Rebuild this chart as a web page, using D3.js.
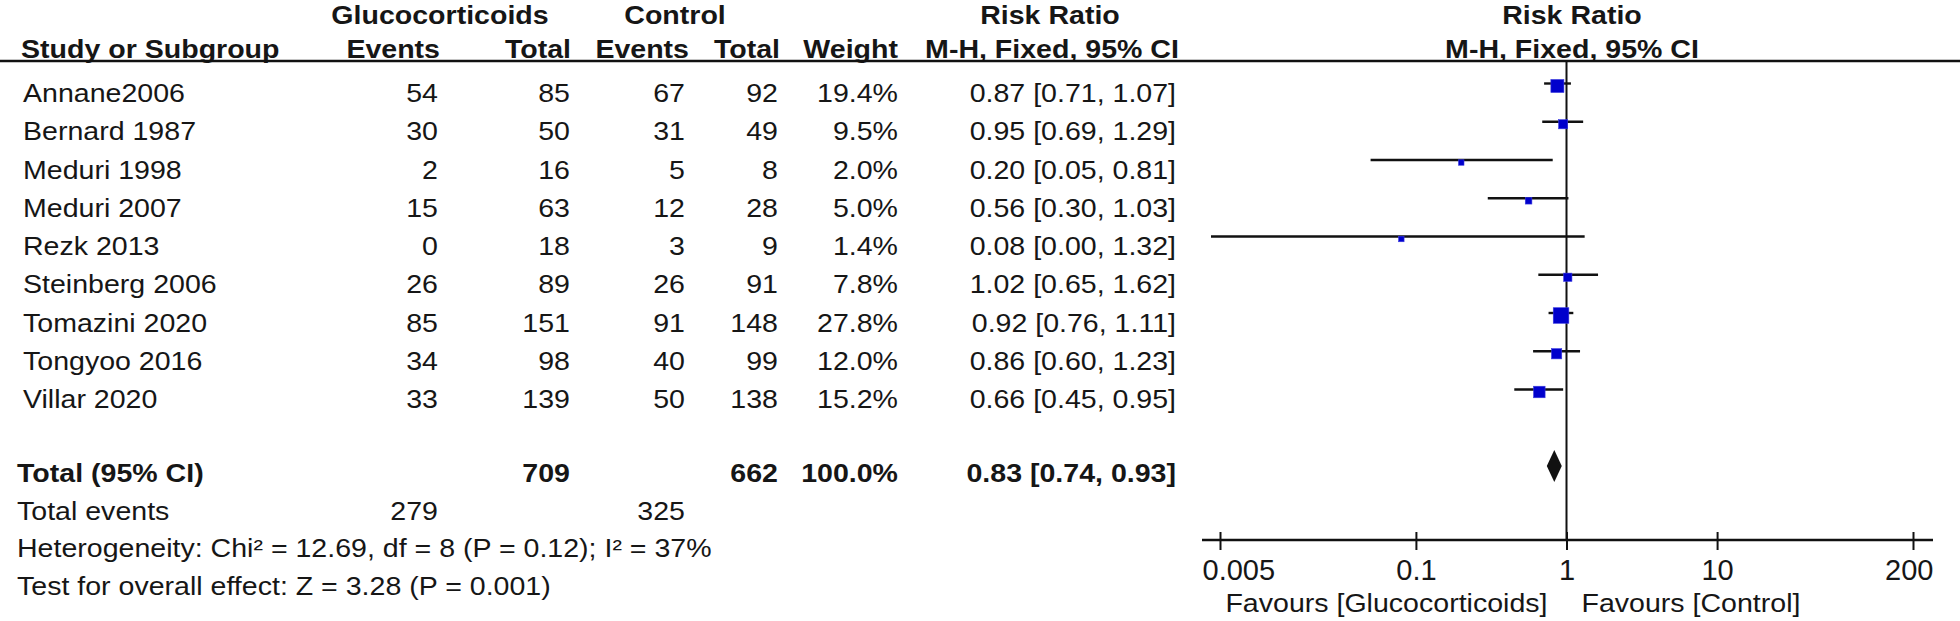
<!DOCTYPE html>
<html>
<head>
<meta charset="utf-8">
<script src="https://cdn.jsdelivr.net/npm/d3@7"></script>
<style>
  body { margin: 0; background: #fff; }
  text { font-family: 'Liberation Sans', Arial, sans-serif; fill: #161616; }
</style>
</head>
<body>
<div id="forest"></div>
<script>
const WIDTH = 1960;
const HEIGHT = 621;
const SX = 1.12;       // the source picture is a little wider than tall
const FONT = 25.5;

// data
const STUDIES = ["Annane2006", "Bernard 1987", "Meduri 1998", "Meduri 2007", "Rezk 2013",
  "Steinberg 2006", "Tomazini 2020", "Tongyoo 2016", "Villar 2020"];
const GC_EVENTS = [54, 30, 2, 15, 0, 26, 85, 34, 33];
const GC_TOTAL = [85, 50, 16, 63, 18, 89, 151, 98, 139];
const CT_EVENTS = [67, 31, 5, 12, 3, 26, 91, 40, 50];
const CT_TOTAL = [92, 49, 8, 28, 9, 91, 148, 99, 138];
const WEIGHT = [19.4, 9.5, 2.0, 5.0, 1.4, 7.8, 27.8, 12.0, 15.2];
const RR = [0.87, 0.95, 0.20, 0.56, 0.08, 1.02, 0.92, 0.86, 0.66];
const RR_LO = [0.71, 0.69, 0.05, 0.30, 0.00, 0.65, 0.76, 0.60, 0.45];
const RR_HI = [1.07, 1.29, 0.81, 1.03, 1.32, 1.62, 1.11, 1.23, 0.95];

const TOTAL_GC = 709, TOTAL_CT = 662, TOTAL_WEIGHT = 100.0;
const TOTAL_RR = [0.83, 0.74, 0.93];
const EVENTS_GC = 279, EVENTS_CT = 325;
const HETEROGENEITY = "Heterogeneity: Chi² = 12.69, df = 8 (P = 0.12); I² = 37%";
const OVERALL = "Test for overall effect: Z = 3.28 (P = 0.001)";
const TICKS = [0.005, 0.1, 1, 10, 200];

// column right edges / left edges
const COL = { name: 23, foot: 17, gcE: 438, gcT: 570, ctE: 685, ctT: 778, w: 898, rr: 1176 };

const svg = d3.select("#forest")
  .append('svg')
  .attr('width', WIDTH)
  .attr('height', HEIGHT);

function label(x, y, s, anchor, bold, size, sx) {
  return svg.append('text')
    .attr('transform', `translate(${x},${y}) scale(${sx === undefined ? SX : sx},1)`)
    .attr('text-anchor', anchor || 'start')
    .style('font-weight', bold ? 'bold' : 'normal')
    .style('font-size', (size || FONT) + 'px')
    .text(s);
}

const xScale = d3.scaleLog()
  .domain([0.005, 200])
  .range([1220, 1913]);
const rowY = d3.scaleLinear().domain([0, 1]).range([102, 140.25]);
const footY = d3.scaleLinear().domain([0, 1]).range([482, 519.6]);
const size = d3.scaleSqrt().domain([0, 27.8]).range([0, 15.6]);
const fmt = d3.format(".2f");
const ci = (a, b, c) => `${fmt(a)} [${fmt(b)}, ${fmt(c)}]`;

// headers
label(440, 24, "Glucocorticoids", 'middle', true);
label(675, 24, "Control", 'middle', true);
label(1050, 24, "Risk Ratio", 'middle', true);
label(1572, 24, "Risk Ratio", 'middle', true);
label(COL.name - 2, 58, "Study or Subgroup", 'start', true);
label(COL.gcE + 2, 58, "Events", 'end', true);
label(COL.gcT + 1, 58, "Total", 'end', true);
label(COL.ctE + 4, 58, "Events", 'end', true);
label(COL.ctT + 2, 58, "Total", 'end', true);
label(COL.w, 58, "Weight", 'end', true);
label(1052, 58, "M-H, Fixed, 95% CI", 'middle', true);
label(1572, 58, "M-H, Fixed, 95% CI", 'middle', true);

svg.append('line')
  .attr('x1', 0).attr('x2', WIDTH)
  .attr('y1', 61).attr('y2', 61)
  .attr('stroke', '#111').attr('stroke-width', 2.6);

// study rows
STUDIES.forEach((s, i) => {
  const y = rowY(i);
  label(COL.name, y, s);
  label(COL.gcE, y, GC_EVENTS[i], 'end');
  label(COL.gcT, y, GC_TOTAL[i], 'end');
  label(COL.ctE, y, CT_EVENTS[i], 'end');
  label(COL.ctT, y, CT_TOTAL[i], 'end');
  label(COL.w, y, WEIGHT[i].toFixed(1) + '%', 'end');
  label(COL.rr, y, ci(RR[i], RR_LO[i], RR_HI[i]), 'end');
});

// totals
label(COL.foot, footY(0), "Total (95% CI)", 'start', true);
label(COL.gcT, footY(0), TOTAL_GC, 'end', true);
label(COL.ctT, footY(0), TOTAL_CT, 'end', true);
label(COL.w, footY(0), TOTAL_WEIGHT.toFixed(1) + '%', 'end', true);
label(COL.rr, footY(0), ci(TOTAL_RR[0], TOTAL_RR[1], TOTAL_RR[2]), 'end', true);
label(COL.foot, footY(1), "Total events");
label(COL.gcE, footY(1), EVENTS_GC, 'end');
label(COL.ctE, footY(1), EVENTS_CT, 'end');
label(COL.foot, footY(2), HETEROGENEITY);
label(COL.foot, footY(3), OVERALL);

// forest plot
const AXIS_Y = 540;
const left = xScale.range()[0], right = xScale.range()[1];

svg.append('line')
  .attr('x1', xScale(1)).attr('x2', xScale(1))
  .attr('y1', 61).attr('y2', AXIS_Y)
  .attr('stroke', '#111').attr('stroke-width', 2);

const rows = svg.append('g');
rows.selectAll('line.ci')
  .data(STUDIES.map((s, i) => i))
  .enter()
  .append('line')
  .attr('class', 'ci')
  .attr('x1', function (i) { return RR_LO[i] > 0 ? Math.max(xScale(RR_LO[i]), left - 9) : left - 9; })
  .attr('x2', function (i) { return Math.min(xScale(RR_HI[i]), right + 9); })
  .attr('y1', function (i) { return rowY(i) - 18.5; })
  .attr('y2', function (i) { return rowY(i) - 18.5; })
  .attr('stroke', '#111')
  .attr('stroke-width', 2.4);

rows.selectAll('rect')
  .data(STUDIES.map((s, i) => i))
  .enter()
  .append('rect')
  .attr('width', function (i) { return Math.max(5.5, size(WEIGHT[i])); })
  .attr('height', function (i) { return Math.max(5.5, size(WEIGHT[i])); })
  .attr('x', function (i) { return xScale(RR[i]) - Math.max(5.5, size(WEIGHT[i])) / 2; })
  .attr('y', function (i) { return rowY(i) - 16 - Math.max(5.5, size(WEIGHT[i])) / 2; })
  .style('fill', '#0000cc')
  .style('stroke', '#3a3ae0')
  .style('stroke-width', 0.6);

const dy = footY(0) - 16;
svg.append('path')
  .attr('d', `M${xScale(TOTAL_RR[1])},${dy} L${xScale(TOTAL_RR[0])},${dy - 16} L${xScale(TOTAL_RR[2])},${dy} L${xScale(TOTAL_RR[0])},${dy + 16} Z`)
  .style('fill', '#111');

// axis
svg.append('line')
  .attr('x1', left - 18).attr('x2', right + 20)
  .attr('y1', AXIS_Y).attr('y2', AXIS_Y)
  .attr('stroke', '#111').attr('stroke-width', 2.6);

const xAxis = d3.axisBottom(xScale)
  .tickValues(TICKS)
  .tickFormat(function (d) { return String(d); })
  .tickSize(10);

const ax = svg.append('g')
  .attr('transform', `translate(0, ${AXIS_Y})`)
  .call(xAxis);
ax.select('.domain').remove();
ax.selectAll('.tick line')
  .attr('y1', -8).attr('y2', 10)
  .attr('stroke', '#111').attr('stroke-width', 2);
ax.selectAll('.tick text')
  .attr('y', 40).attr('dy', 0)
  .style('font-size', '29px')
  .style('font-family', "'Liberation Sans', Arial, sans-serif")
  .style('fill', '#161616');
ax.selectAll('.tick text')
  .filter(function (d) { return d === TICKS[0]; })
  .attr('text-anchor', 'start').attr('x', -18);
ax.selectAll('.tick text')
  .filter(function (d) { return d === TICKS[TICKS.length - 1]; })
  .attr('text-anchor', 'end').attr('x', 20);

label(xScale(1) - 19, 612, "Favours [Glucocorticoids]", 'end');
label(xScale(1) + 15, 612, "Favours [Control]", 'start');
</script>
</body>
</html>
